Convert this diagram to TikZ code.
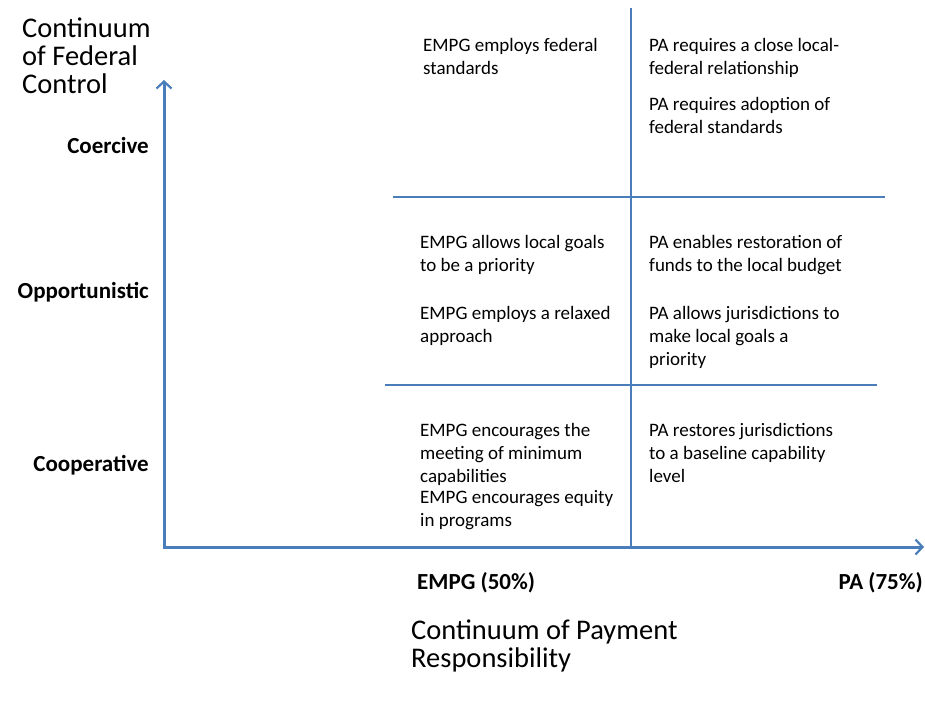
\documentclass[tikz,border=0pt]{standalone}
\usepackage{fontspec}
\setmainfont{Carlito}
\usetikzlibrary{arrows.meta, positioning, calc}
\definecolor{axisblue}{HTML}{4A7EBB}
\tikzstyle{axis} = [line width=3pt, draw=axisblue, -{Straight Barb[length=7pt,width=15pt,line width=2.2pt]}]
\tikzstyle{grid} = [line width=1.2pt, draw=axisblue]
\tikzstyle{cell} = [anchor=base west, inner sep=0pt, align=left, font=\fontsize{19}{23}\selectfont]
\tikzstyle{level} = [anchor=base east, inner sep=0pt, font=\fontsize{23}{23}\selectfont\bfseries]
\tikzstyle{title} = [anchor=base west, inner sep=0pt, align=left, font=\fontsize{28.5}{28}\selectfont]

\begin{document}
\begin{tikzpicture}[x=1pt,y=-1pt]
    \useasboundingbox (0,0) rectangle (925,706);
    % axes
    \coordinate (origin) at (164,547);
    \coordinate (y_end) at (164,80);
    \coordinate (x_end) at (924,547);
    \draw[axis] ([yshift=1.5pt]origin) -- (y_end);
    \draw[axis] ([xshift=-1.5pt]origin) -- (x_end);
    % grid lines
    \coordinate (v_top) at (631,8);
    \coordinate (v_bot) at (631,549);
    \coordinate (h1_l) at (393,197);
    \coordinate (h1_r) at (885,197);
    \coordinate (h2_l) at (385,385);
    \coordinate (h2_r) at (877,385);
    \draw[grid] (v_top) -- (v_bot);
    \draw[grid] (h1_l) -- (h1_r);
    \draw[grid] (h2_l) -- (h2_r);
    % axis titles
    \node[title] (y_title) at (22,94) {Continuum\\of Federal\\Control};
    \node[title] (x_title) at (411,667) {Continuum of Payment\\Responsibility};
    % levels
    \node[level] (coercive) at (149,153) {Coercive};
    \node[level] (opportunistic) at (149,298) {Opportunistic};
    \node[level] (cooperative) at (149,471) {Cooperative};
    \node[level, anchor=base west] (empg) at (417,589) {EMPG (50\%)};
    \node[level] (pa) at (923,589) {PA (75\%)};
    % coercive row
    \node[cell] (c_empg) at (423,75) {EMPG employs federal\\standards};
    \node[cell] (c_pa1) at (649,75) {PA requires a close local-\\federal relationship};
    \node[cell] (c_pa2) at (649,133) {PA requires adoption of\\federal standards};
    % opportunistic row
    \node[cell] (o_empg1) at (420,271) {EMPG allows local goals\\to be a priority};
    \node[cell] (o_empg2) at (420,342) {EMPG employs a relaxed\\approach};
    \node[cell] (o_pa1) at (649,271) {PA enables restoration of\\funds to the local budget};
    \node[cell] (o_pa2) at (649,365) {PA allows jurisdictions to\\make local goals a\\priority};
    % cooperative row
    \node[cell] (p_empg1) at (420,482) {EMPG encourages the\\meeting of minimum\\capabilities};
    \node[cell] (p_empg2) at (420,526) {EMPG encourages equity\\in programs};
    \node[cell] (p_pa) at (649,482) {PA restores jurisdictions\\to a baseline capability\\level};
\end{tikzpicture}
\end{document}
